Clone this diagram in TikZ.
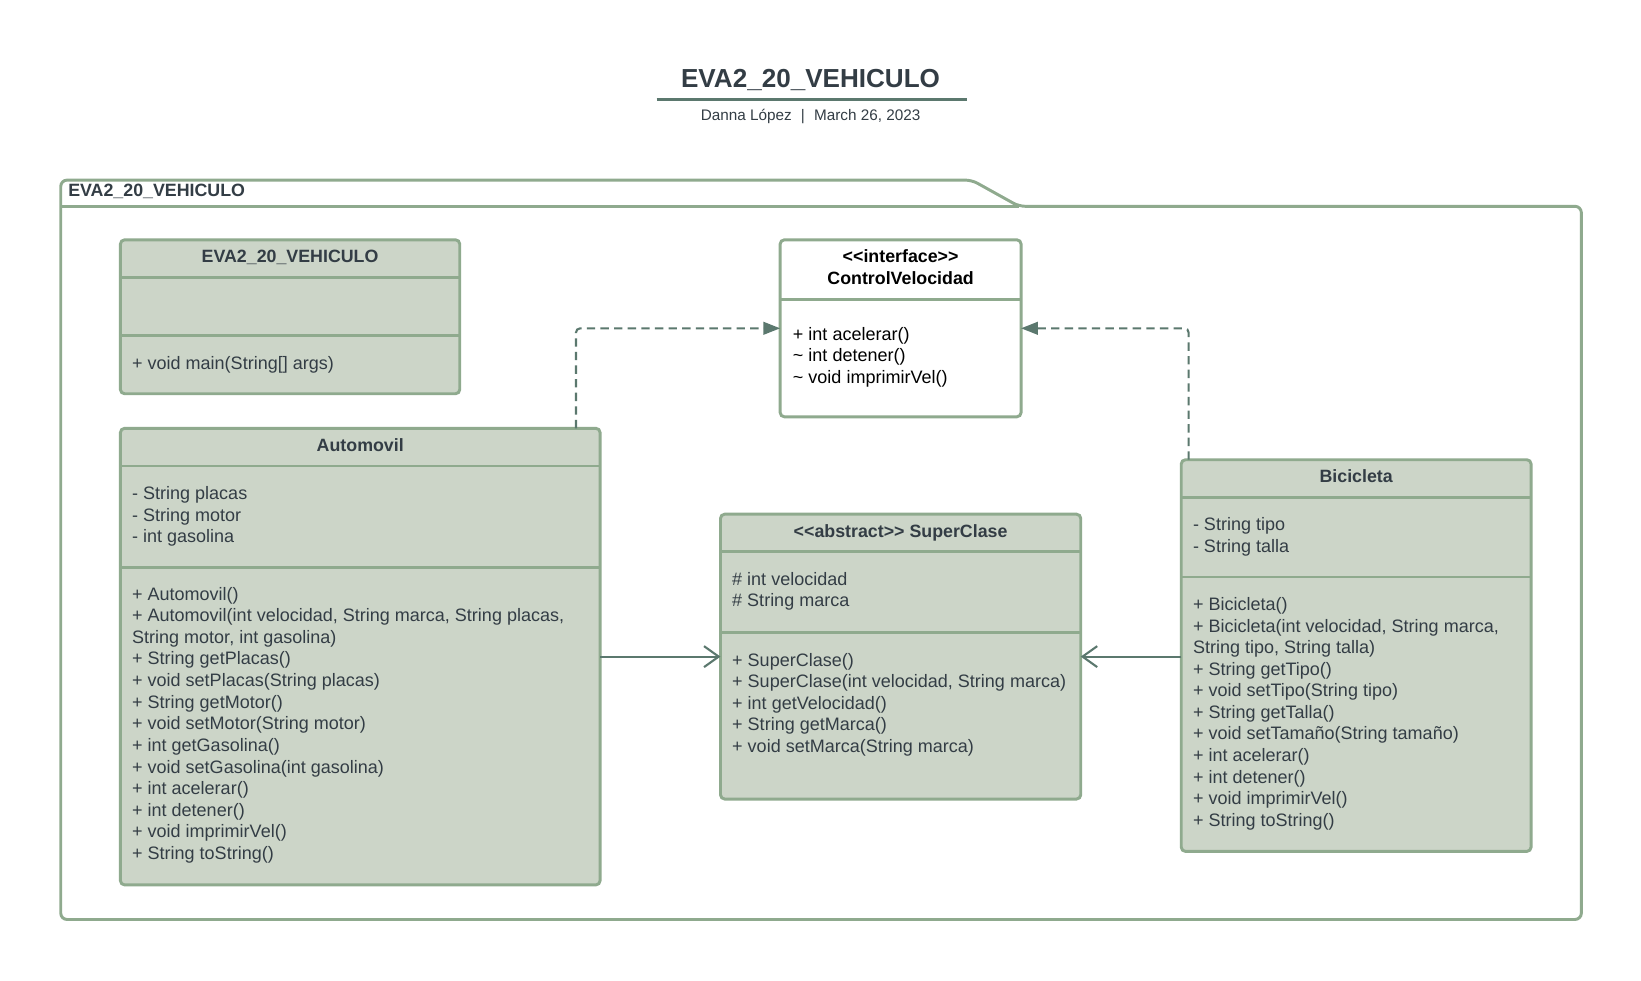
\documentclass[tikz,border=0pt]{standalone}
\usepackage{fontspec}
\setmainfont{Liberation Sans}
\usetikzlibrary{arrows.meta}
\definecolor{boxfill}{HTML}{CCD5C8}
\definecolor{boxline}{HTML}{8FAA8E}
\definecolor{conn}{HTML}{5B786E}
\definecolor{txt}{HTML}{333D45}
\tikzset{
  classbox/.style={draw=boxline, fill=boxfill, line width=2.8pt, rounded corners=4pt, inner sep=0pt, outer sep=0pt, anchor=north west},
  ifacebox/.style={classbox, fill=white},
  sepline/.style={draw=boxline, line width=2.8pt},
  pkgline/.style={draw=boxline, line width=2.8pt},
  mtxt/.style={anchor=base west, inner sep=0pt, font=\fontsize{17.2}{20.6}\selectfont, text=txt},
  htxt/.style={anchor=base, inner sep=0pt, font=\fontsize{17}{20.6}\selectfont\bfseries, text=txt},
  realize/.style={draw=conn, line width=2pt, dash pattern=on 8pt off 5pt, rounded corners=4pt, -{Triangle[length=16pt,width=12pt]}},
  inherit/.style={draw=conn, line width=2pt, -{Straight Barb[length=14pt,width=20pt,line width=2pt]}}
}
\begin{document}
\begin{tikzpicture}[x=1pt,y=-1pt]
\useasboundingbox (0,0) rectangle (1567,936);
\fill[white] (0,0) rectangle (1567,936);

% title
\node[anchor=base, inner sep=0pt, font=\fontsize{24.9}{30}\selectfont\bfseries, text=txt] (title) at (774,84) {EVA2\_20\_VEHICULO};
\coordinate (ulL) at (627,95);
\coordinate (ulR) at (923,95);
\draw[conn, line width=2pt] (ulL) -- (ulR);
\node[anchor=base, inner sep=0pt, font=\fontsize{14.6}{18}\selectfont, text=txt] (sub) at (774,115) {Danna López\hspace{0.6em}|\hspace{0.6em}March 26, 2023};

% package
\draw[pkgline, fill=white, rounded corners=6pt] (58,197) -- (58,172) -- (928,172) -- (973,197) -- (1510,197) -- (1510,878) -- (58,878) -- cycle;
\draw[pkgline] (58,197) -- (973,197);
\node[anchor=base west, inner sep=0pt, font=\fontsize{17}{20.6}\selectfont\bfseries, text=txt] (pkglabel) at (65,188) {EVA2\_20\_VEHICULO};

% class EVA2_20_VEHICULO
\node[classbox, minimum width=324pt, minimum height=147pt] (main) at (115,229) {};
\draw[sepline] (115,265) -- (439,265);
\draw[sepline] (115,320) -- (439,320);
\node[htxt] (mainh) at (277,251) {EVA2\_20\_VEHICULO};
\node[mtxt] (mainm) at (126,353) {+ void main(String[] args)};

% interface
\node[ifacebox, minimum width=230pt, minimum height=169pt] (iface) at (745,229) {};
\draw[sepline] (745,286) -- (975,286);
\node[htxt, text=black] (ifh1) at (860,251) {<\kern0pt<interface>\kern0pt>};
\node[htxt, text=black] (ifh2) at (860,272) {ControlVelocidad};
\node[mtxt, text=black] (ifm1) at (757,325) {+ int acelerar()};
\node[mtxt, text=black] (ifm2) at (757,345.6) {\textasciitilde{} int detener()};
\node[mtxt, text=black] (ifm3) at (757,366.2) {\textasciitilde{} void imprimirVel()};

% Automovil
\node[classbox, minimum width=458pt, minimum height=436pt] (auto) at (115,409) {};
\draw[sepline] (115,445) -- (573,445);
\draw[sepline] (115,542) -- (573,542);
\node[htxt] (autoh) at (344,431) {Automovil};
\foreach \t [count=\i from 0] in {{- String placas}, {- String motor}, {- int gasolina}}
  \node[mtxt] (aa\i) at (126,477+\i*20.6) {\t};
\foreach \t [count=\i from 0] in {{+ Automovil()}, {+ Automovil(int velocidad, String marca, String placas,}, {String motor, int gasolina)}, {+ String getPlacas()}, {+ void setPlacas(String placas)}, {+ String getMotor()}, {+ void setMotor(String motor)}, {+ int getGasolina()}, {+ void setGasolina(int gasolina)}, {+ int acelerar()}, {+ int detener()}, {+ void imprimirVel()}, {+ String toString()}}
  \node[mtxt] (am\i) at (126,573+\i*20.65) {\t};

% SuperClase
\node[classbox, minimum width=344pt, minimum height=272pt] (super) at (688,491) {};
\draw[sepline] (688,527) -- (1032,527);
\draw[sepline] (688,604) -- (1032,604);
\node[htxt] (superh) at (860,513) {<\kern0pt<abstract>\kern0pt> SuperClase};
\node[mtxt] (sa0) at (699,559) {\# int velocidad};
\node[mtxt] (sa1) at (699,579.6) {\# String marca};
\foreach \t [count=\i from 0] in {{+ SuperClase()}, {+ SuperClase(int velocidad, String marca)}, {+ int getVelocidad()}, {+ String getMarca()}, {+ void setMarca(String marca)}}
  \node[mtxt] (sm\i) at (699,636+\i*20.6) {\t};

% Bicicleta
\node[classbox, minimum width=334pt, minimum height=374pt] (bici) at (1128,439) {};
\draw[sepline] (1128,475) -- (1462,475);
\draw[sepline] (1128,551) -- (1462,551);
\node[htxt] (bicih) at (1295,461) {Bicicleta};
\node[mtxt] (ba0) at (1139,507) {- String tipo};
\node[mtxt] (ba1) at (1139,527.6) {- String talla};
\foreach \t [count=\i from 0] in {{+ Bicicleta()}, {+ Bicicleta(int velocidad, String marca,}, {String tipo, String talla)}, {+ String getTipo()}, {+ void setTipo(String tipo)}, {+ String getTalla()}, {+ void setTamaño(String tamaño)}, {+ int acelerar()}, {+ int detener()}, {+ void imprimirVel()}, {+ String toString()}}
  \node[mtxt] (bm\i) at (1139,583+\i*20.6) {\t};

% connectors
\draw[realize] ([xshift=435pt]auto.north west) |- (iface.west);
\draw[realize] ([xshift=7pt]bici.north west) |- (iface.east);
\draw[inherit] (auto.east |- super.west) -- (super.west);
\draw[inherit] (bici.west |- super.east) -- (super.east);
\end{tikzpicture}
\end{document}
